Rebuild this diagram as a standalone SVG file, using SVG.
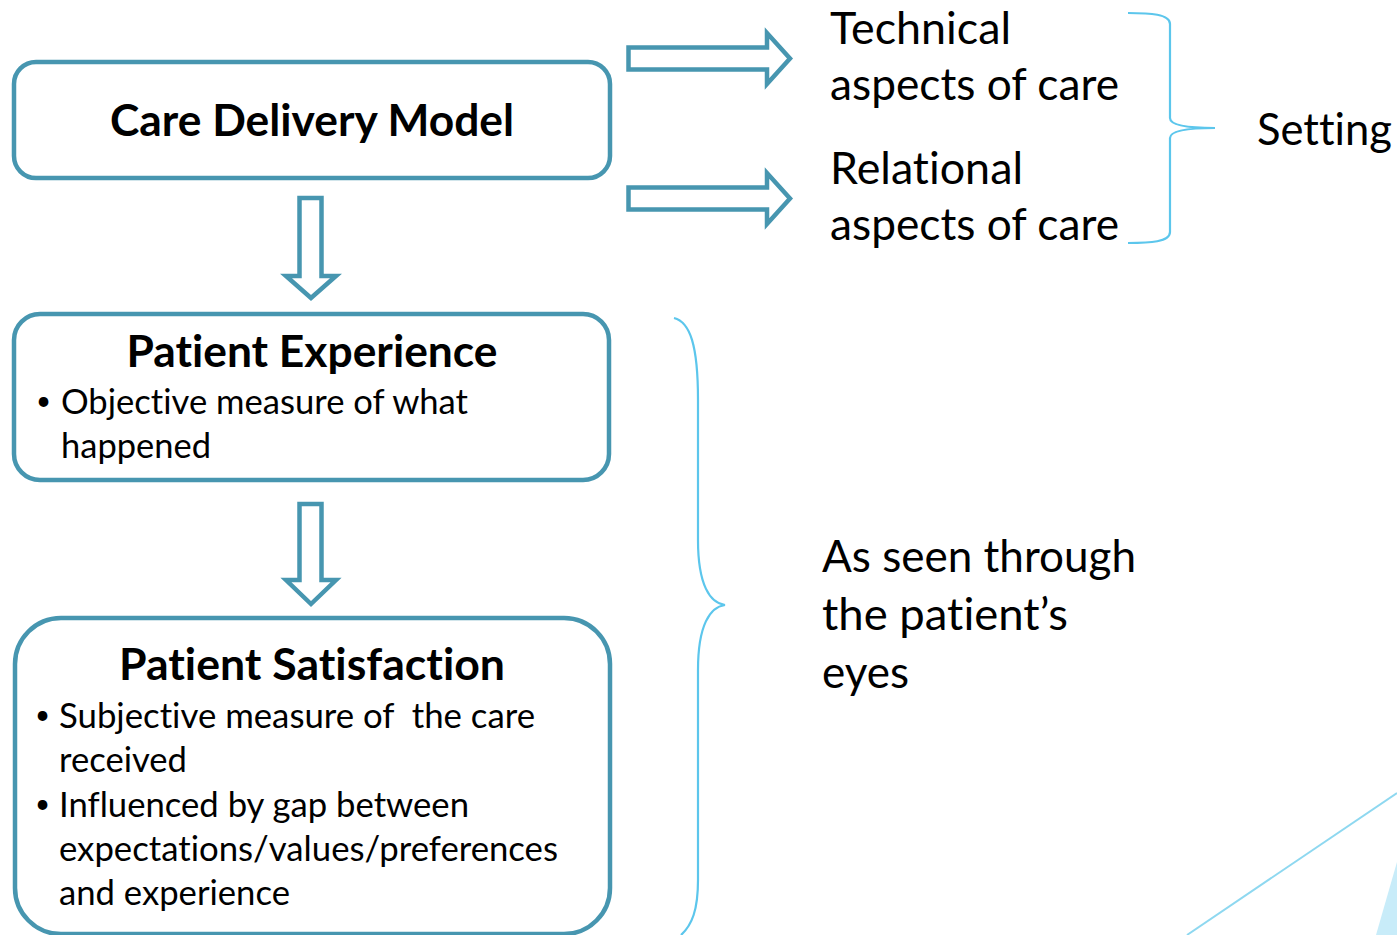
<svg xmlns="http://www.w3.org/2000/svg" width="1397" height="935" viewBox="0 0 1397 935">
  <style>
    text { font-variant-ligatures: none; font-feature-settings: "liga" 0, "clig" 0; }
    .box { fill: #ffffff; stroke: #4796B0; stroke-width: 4.5; }
    .flow { fill: #ffffff; stroke: #4796B0; stroke-width: 4.5; stroke-linejoin: miter; }
    .brace { fill: none; stroke: #5CC6EC; stroke-width: 2.2; }
    .title { font-family: Lato, "Liberation Sans", sans-serif; font-weight: 700; font-size: 44px; fill: #000; }
    .body { font-family: Lato, "Liberation Sans", sans-serif; font-size: 34px; fill: #000; white-space: pre; }
    .dot { font-family: Lato, "Liberation Sans", sans-serif; font-size: 26px; fill: #000; }
    .side { font-family: Lato, "Liberation Sans", sans-serif; font-size: 44px; fill: #000; }
  </style>

  <rect width="1397" height="935" fill="#ffffff"/>

  <!-- decorative corner strokes -->
  <line x1="1187" y1="935" x2="1397" y2="793" stroke="#8ED8F0" stroke-width="2"/>
  <polygon points="1376,935 1397,862 1397,935" fill="#C8ECF9"/>

  <!-- connectors: block arrows -->
  <g id="connectors">
    <path class="flow" d="M628.5,47.5 H767 V33 L790,58.5 L767,84 V69.5 H628.5 Z"/>
    <path class="flow" d="M628.5,187.5 H767 V173 L790,198.5 L767,224 V209.5 H628.5 Z"/>
    <path class="flow" d="M299.5,198 V276 H286 L311,298 L336,276 H321.5 V198 Z"/>
    <path class="flow" d="M299.5,504 V580 H286 L311,604 L336,580 H321.5 V504 Z"/>
  </g>

  <g id="care-delivery-model">
    <rect class="box" x="14" y="62" width="596" height="116" rx="22"/>
    <text class="title" x="312" y="136" text-anchor="middle" textLength="404" lengthAdjust="spacingAndGlyphs">Care Delivery Model</text>
  </g>

  <g id="patient-experience">
    <rect class="box" x="14" y="314" width="595" height="166" rx="26"/>
    <text class="title" x="312" y="367" text-anchor="middle" textLength="371" lengthAdjust="spacingAndGlyphs">Patient Experience</text>
    <text class="dot" x="36" y="410">•</text>
    <text class="body" x="61" y="414" textLength="407" lengthAdjust="spacingAndGlyphs">Objective measure of what</text>
    <text class="body" x="61" y="458" textLength="150" lengthAdjust="spacingAndGlyphs">happened</text>
  </g>

  <g id="patient-satisfaction">
    <rect class="box" x="15" y="618" width="595" height="316" rx="46"/>
    <text class="title" x="312" y="680" text-anchor="middle" textLength="386" lengthAdjust="spacingAndGlyphs">Patient Satisfaction</text>
    <text class="dot" x="35" y="724">•</text>
    <text class="body" x="59" y="728" xml:space="preserve" textLength="476" lengthAdjust="spacingAndGlyphs">Subjective measure of  the care</text>
    <text class="body" x="59" y="772" textLength="128" lengthAdjust="spacingAndGlyphs">received</text>
    <text class="dot" x="35" y="813">•</text>
    <text class="body" x="59" y="817" textLength="410" lengthAdjust="spacingAndGlyphs">Influenced by gap between</text>
    <text class="body" x="59" y="861" textLength="499" lengthAdjust="spacingAndGlyphs">expectations/values/preferences</text>
    <text class="body" x="59" y="905" textLength="231" lengthAdjust="spacingAndGlyphs">and experience</text>
  </g>

  <g id="technical-aspects">
    <text class="side" x="830" y="44" textLength="181" lengthAdjust="spacingAndGlyphs">Technical</text>
    <text class="side" x="830" y="100" textLength="289" lengthAdjust="spacingAndGlyphs">aspects of care</text>
  </g>

  <g id="relational-aspects">
    <text class="side" x="830" y="184" textLength="193" lengthAdjust="spacingAndGlyphs">Relational</text>
    <text class="side" x="830" y="240" textLength="289" lengthAdjust="spacingAndGlyphs">aspects of care</text>
  </g>

  <!-- brace grouping the two aspects -->
  <path class="brace" d="M1128,13 C1150,13 1170,14 1170,24 V118 C1170,126 1190,128 1215,128 C1190,128 1170,130 1170,138 V232 C1170,242 1150,243 1128,243"/>

  <g id="setting">
    <text class="side" x="1257" y="145" textLength="135" lengthAdjust="spacingAndGlyphs">Setting</text>
  </g>

  <!-- brace spanning experience and satisfaction -->
  <path class="brace" d="M674,318 C690,322 698,345 698,400 V540 C698,585 710,603 725,605 C710,607 698,625 698,670 V880 C698,910 692,925 681,935"/>

  <g id="patient-view">
    <text class="side" x="822" y="572" textLength="314" lengthAdjust="spacingAndGlyphs">As seen through</text>
    <text class="side" x="822" y="630" textLength="246" lengthAdjust="spacingAndGlyphs">the patient’s</text>
    <text class="side" x="822" y="688" textLength="87" lengthAdjust="spacingAndGlyphs">eyes</text>
  </g>
</svg>
